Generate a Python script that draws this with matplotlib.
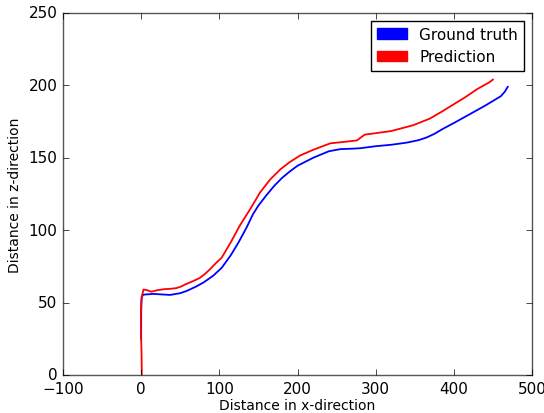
import matplotlib
matplotlib.use("Agg")
import matplotlib.pyplot as plt
from matplotlib.patches import Patch

plt.style.use("classic")

gt_x = [0, 0, 0.2, 0.6, 3, 15.5, 37, 50, 58, 70, 80, 92, 103, 115, 125, 135, 143, 150, 160,
        170, 180, 190, 200, 220, 240, 255, 270, 280, 300, 320, 340, 355, 365, 375, 386,
        400, 420, 440, 460, 465, 469]
gt_z = [25, 40, 50, 54, 55.5, 56, 55.3, 56.5, 58, 61, 64, 68.5, 74, 83, 92, 102, 111, 117, 124,
        130.5, 136, 140.5, 144.5, 150, 154.5, 156, 156.3, 156.6, 158, 159, 160.5, 162.2, 164,
        166.5, 170, 174, 180, 186, 192.5, 195.5, 199]

pr_x = [0.8, 0.5, -0.3, -0.3, 0.3, 1.2, 3, 7, 13, 20, 30, 37, 45, 52, 56, 65, 75, 82, 88,
        96, 103, 115, 126, 140, 152, 165, 178, 190, 203, 220, 242, 260, 276, 281, 286,
        300, 320, 348, 369, 385, 400, 415, 430, 445, 450]
pr_z = [0, 15, 30, 42, 50, 55, 59, 58.7, 57.5, 58.5, 59.3, 59.5, 60, 61.3, 62.5, 64.5, 67,
        70, 73, 77.5, 81, 92, 103, 115, 126, 135, 142, 147, 151.5, 155.5, 160, 161, 162,
        164, 166, 167, 168.5, 172.5, 177, 182, 187, 192, 197.5, 202, 204]

series_labels = ["Ground truth", "Prediction"]
series_colors = ["blue", "red"]

fig = plt.figure(figsize=(5.44, 4.14), dpi=100, facecolor="white")
ax = fig.add_axes([63/544, 1 - 376/414, (532 - 63)/544, (376 - 14)/414])
ax.plot(gt_x, gt_z, color=series_colors[0], lw=1.3)
ax.plot(pr_x, pr_z, color=series_colors[1], lw=1.3)
ax.set_xlim(-100, 500)
ax.set_ylim(0, 250)
ax.set_xticks([-100, 0, 100, 200, 300, 400, 500])
ax.set_yticks([0, 50, 100, 150, 200, 250])
ax.tick_params(labelsize=11)
ax.set_xlabel("Distance in x-direction", fontsize=10, labelpad=2)
ax.set_ylabel("Distance in z-direction", fontsize=10)
handles = [Patch(facecolor=c, edgecolor=c) for c in series_colors]
ax.legend(handles, series_labels, loc="upper right", fontsize=11, fancybox=False)
for s in ax.spines.values():
    s.set_color("#555555")
fig.savefig("out.png", dpi=100, facecolor="white")
